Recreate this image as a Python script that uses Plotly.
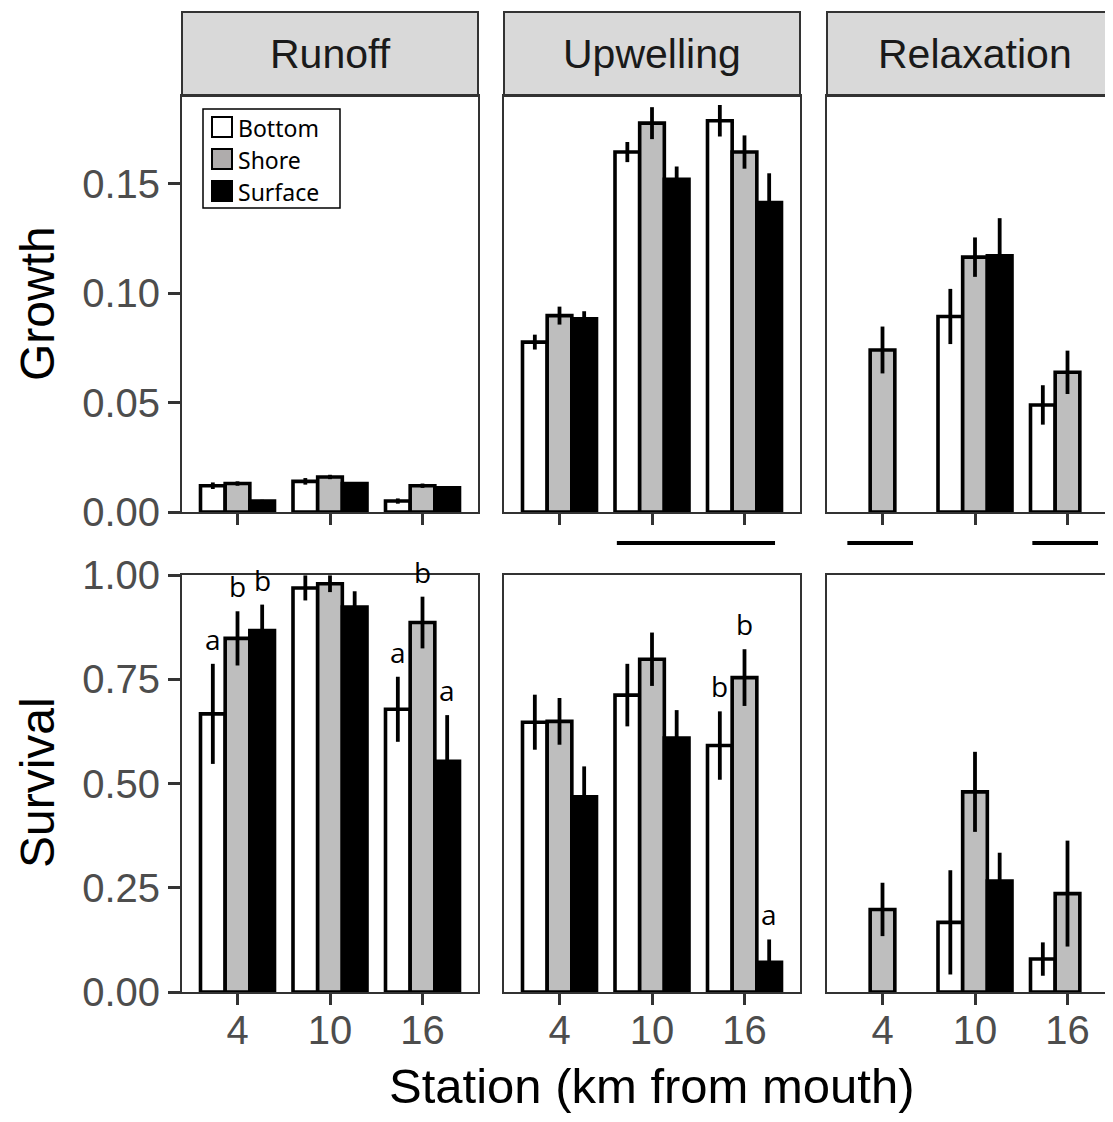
import plotly.graph_objects as go

# ---------------- data ----------------
stations = ["4", "10", "16"]
treatments = ["Bottom", "Shore", "Surface"]
conditions = ["Runoff", "Upwelling", "Relaxation"]

# growth means / standard errors, one list per treatment (stations 4, 10, 16)
growth_runoff_bottom = [0.012, 0.014, 0.005]
growth_runoff_shore = [0.013, 0.016, 0.012]
growth_runoff_surface = [0.005, 0.013, 0.011]
growth_runoff_bottom_se = [0.0015, 0.0015, 0.0012]
growth_runoff_shore_se = [0.0010, 0.0010, 0.0010]
growth_runoff_surface_se = [0.0006, 0.0006, 0.0008]

growth_upwelling_bottom = [0.0776, 0.1644, 0.1787]
growth_upwelling_shore = [0.0897, 0.1776, 0.1644]
growth_upwelling_surface = [0.0882, 0.1520, 0.1413]
growth_upwelling_bottom_se = [0.0034, 0.0046, 0.0072]
growth_upwelling_shore_se = [0.0041, 0.0073, 0.0076]
growth_upwelling_surface_se = [0.0035, 0.0058, 0.0134]

growth_relaxation_bottom = [None, 0.0893, 0.0489]
growth_relaxation_shore = [0.0740, 0.1164, 0.0638]
growth_relaxation_surface = [None, 0.1170, None]
growth_relaxation_bottom_se = [None, 0.0126, 0.0090]
growth_relaxation_shore_se = [0.0107, 0.0090, 0.0099]
growth_relaxation_surface_se = [None, 0.0172, None]

survival_runoff_bottom = [0.667, 0.969, 0.678]
survival_runoff_shore = [0.848, 0.979, 0.886]
survival_runoff_surface = [0.867, 0.923, 0.553]
survival_runoff_bottom_se = [0.120, 0.030, 0.078]
survival_runoff_shore_se = [0.065, 0.020, 0.062]
survival_runoff_surface_se = [0.062, 0.038, 0.111]

survival_upwelling_bottom = [0.647, 0.712, 0.591]
survival_upwelling_shore = [0.649, 0.798, 0.754]
survival_upwelling_surface = [0.468, 0.609, 0.071]
survival_upwelling_bottom_se = [0.066, 0.075, 0.082]
survival_upwelling_shore_se = [0.056, 0.064, 0.068]
survival_upwelling_surface_se = [0.073, 0.067, 0.055]

survival_relaxation_bottom = [None, 0.167, 0.079]
survival_relaxation_shore = [0.198, 0.480, 0.236]
survival_relaxation_surface = [None, 0.266, None]
survival_relaxation_bottom_se = [None, 0.125, 0.040]
survival_relaxation_shore_se = [0.064, 0.096, 0.127]
survival_relaxation_surface_se = [None, 0.068, None]

# significance letters: (condition, station, treatment, letter) for survival
letters = [
    ("Runoff", "4", "Bottom", "a"), ("Runoff", "4", "Shore", "b"), ("Runoff", "4", "Surface", "b"),
    ("Runoff", "16", "Bottom", "a"), ("Runoff", "16", "Shore", "b"), ("Runoff", "16", "Surface", "a"),
    ("Upwelling", "16", "Bottom", "b"), ("Upwelling", "16", "Shore", "b"), ("Upwelling", "16", "Surface", "a"),
]
# underlines below growth panels: (condition, first station, last station)
sig_lines = [("Upwelling", "10", "16"), ("Relaxation", "4", "4"), ("Relaxation", "16", "16")]

# ---------------- assemble ----------------
growth = {
    "Runoff": ([growth_runoff_bottom, growth_runoff_shore, growth_runoff_surface],
               [growth_runoff_bottom_se, growth_runoff_shore_se, growth_runoff_surface_se]),
    "Upwelling": ([growth_upwelling_bottom, growth_upwelling_shore, growth_upwelling_surface],
                  [growth_upwelling_bottom_se, growth_upwelling_shore_se, growth_upwelling_surface_se]),
    "Relaxation": ([growth_relaxation_bottom, growth_relaxation_shore, growth_relaxation_surface],
                   [growth_relaxation_bottom_se, growth_relaxation_shore_se, growth_relaxation_surface_se]),
}
survival = {
    "Runoff": ([survival_runoff_bottom, survival_runoff_shore, survival_runoff_surface],
               [survival_runoff_bottom_se, survival_runoff_shore_se, survival_runoff_surface_se]),
    "Upwelling": ([survival_upwelling_bottom, survival_upwelling_shore, survival_upwelling_surface],
                  [survival_upwelling_bottom_se, survival_upwelling_shore_se, survival_upwelling_surface_se]),
    "Relaxation": ([survival_relaxation_bottom, survival_relaxation_shore, survival_relaxation_surface],
                   [survival_relaxation_bottom_se, survival_relaxation_shore_se, survival_relaxation_surface_se]),
}

# The page body has an 8px default margin, so the figure is sized to fill
# the rest of the window and all layout pixel positions are shifted by it.
OFF = 8
W, H = 1113 - OFF, 1122 - 2 * OFF
fill_colors = ["#ffffff", "#bebebe", "#000000"]
legend_colors = ["#ffffff", "#afacac", "#000000"]
xpos = [1, 2, 3]
BAR_W = 0.8 / 3

# panel pixel geometry (window coordinates)
col_px = [(182, 478), (504, 800), (827, 1123)]
row_px = [(96, 512), (575, 992)]
strip_px = (12, 96)


def px_x(p):
    return (p - OFF) / W


def px_y(p):
    return 1 - (p - OFF) / H


fig = go.Figure()

AX = "#333333"
TICKC = "#4d4d4d"
tick_font = dict(family="Liberation Sans, Arial", size=40, color=TICKC)

for r, (rowdata, yr) in enumerate([(growth, [0, 0.19]), (survival, [0, 1.0])]):
    for c, cond in enumerate(conditions):
        idx = r * 3 + c + 1
        xa = "x" if idx == 1 else f"x{idx}"
        ya = "y" if idx == 1 else f"y{idx}"
        means, ses = rowdata[cond]
        for t, tr in enumerate(treatments):
            fig.add_trace(go.Bar(
                x=xpos, y=means[t], name=tr,
                xaxis=xa, yaxis=ya, showlegend=False,
                marker=dict(color=fill_colors[t], line=dict(color="black", width=3.6)),
                error_y=dict(type="data", array=ses[t], visible=True, thickness=3.8,
                             width=0, color="black"),
                offsetgroup=str(t),
            ))
        x0p, x1p = col_px[c]
        y0p, y1p = row_px[r]
        full_units = 3.2
        vis_right = min(x1p, OFF + W)
        rng_hi = 0.4 + full_units * (vis_right - x0p) / (x1p - x0p)
        xkey = "xaxis" if idx == 1 else f"xaxis{idx}"
        ykey = "yaxis" if idx == 1 else f"yaxis{idx}"
        fig.layout[xkey] = dict(
            domain=[px_x(x0p), px_x(vis_right)], anchor=ya,
            range=[0.4, rng_hi], tickvals=xpos, ticktext=stations,
            showticklabels=(r == 1), ticks="outside", ticklen=11, tickwidth=3,
            ticklabelstandoff=-9,
            tickcolor=AX, tickfont=tick_font, automargin=False,
            showline=True, linecolor=AX, linewidth=2, mirror=True,
            showgrid=False, zeroline=False, fixedrange=True,
        )
        fig.layout[ykey] = dict(
            domain=[px_y(y1p), px_y(y0p)], anchor=xa,
            range=yr,
            tickvals=([0, 0.05, 0.10, 0.15] if r == 0 else [0, 0.25, 0.5, 0.75, 1.0]),
            ticktext=(["0.00", "0.05", "0.10", "0.15"] if r == 0 else ["0.00", "0.25", "0.50", "0.75", "1.00"]),
            showticklabels=(c == 0), ticks=("outside" if c == 0 else ""),
            ticklen=12, tickwidth=3, tickcolor=AX, tickfont=tick_font, automargin=False,
            showline=True, linecolor=AX, linewidth=2, mirror=(c != 2),
            showgrid=False, zeroline=False, fixedrange=True,
        )

shapes = []
annotations = []

# facet strips
for c, cond in enumerate(conditions):
    x0p, x1p = col_px[c]
    shapes.append(dict(type="rect", xref="paper", yref="paper",
                       x0=px_x(x0p), x1=px_x(x1p), y0=px_y(strip_px[1]), y1=px_y(strip_px[0]),
                       fillcolor="#d9d9d9", line=dict(color=AX, width=2), layer="below"))
    annotations.append(dict(text=cond, xref="paper", yref="paper",
                            x=px_x((x0p + x1p) / 2), y=px_y(sum(strip_px) / 2),
                            xanchor="center", yanchor="middle", showarrow=False,
                            font=dict(family="Liberation Sans, Arial", size=41, color="#1a1a1a")))

# significance underlines below growth panels
for cond, s0, s1 in sig_lines:
    c = conditions.index(cond)
    xa = "x" if c == 0 else f"x{c + 1}"
    shapes.append(dict(type="line", xref=xa, yref="paper",
                       x0=xpos[stations.index(s0)] - 0.38, x1=xpos[stations.index(s1)] + 0.33,
                       y0=px_y(543), y1=px_y(543), line=dict(color="black", width=4)))

# letters above survival bars
for cond, st, tr, let in letters:
    c = conditions.index(cond)
    idx = 3 + c + 1
    t = treatments.index(tr)
    s = stations.index(st)
    means, ses = survival[cond]
    top = means[t][s] + ses[t][s]
    annotations.append(dict(text=let, xref=f"x{idx}", yref=f"y{idx}",
                            x=xpos[s] + (t - 1) * BAR_W, y=top,
                            xanchor="center", yanchor="bottom", yshift=4, showarrow=False,
                            font=dict(family="Open Sans, Noto Sans", size=28, color="black")))

# legend box (drawn inside the Runoff growth panel)
shapes.append(dict(type="rect", xref="paper", yref="paper",
                   x0=px_x(203), x1=px_x(340), y0=px_y(208), y1=px_y(109),
                   fillcolor="white", line=dict(color="black", width=1.5)))
for t, tr in enumerate(treatments):
    yc = 127 + 32 * t
    shapes.append(dict(type="rect", xref="paper", yref="paper",
                       x0=px_x(212), x1=px_x(232), y0=px_y(yc + 10), y1=px_y(yc - 10),
                       fillcolor=legend_colors[t], line=dict(color="black", width=2)))
    annotations.append(dict(text=tr, xref="paper", yref="paper",
                            x=px_x(236), y=px_y(yc + 1), xanchor="left", yanchor="middle",
                            showarrow=False,
                            font=dict(family="Noto Sans, Open Sans", size=23, color="black")))

# axis titles
ytitle_font = dict(family="Liberation Sans, Arial", size=48, color="black")
xtitle_font = dict(family="Liberation Sans, Arial", size=49, color="black")
annotations.append(dict(text="Growth", xref="paper", yref="paper", x=px_x(37), y=px_y(304),
                        textangle=-90, xanchor="center", yanchor="middle", showarrow=False,
                        font=ytitle_font))
annotations.append(dict(text="Survival", xref="paper", yref="paper", x=px_x(37), y=px_y(783),
                        textangle=-90, xanchor="center", yanchor="middle", showarrow=False,
                        font=ytitle_font))
annotations.append(dict(text="Station (km from mouth)", xref="paper", yref="paper",
                        x=px_x(652), y=px_y(1086), xanchor="center", yanchor="middle",
                        showarrow=False, font=xtitle_font))

fig.update_layout(
    width=W, height=H, margin=dict(l=0, r=0, t=0, b=0, autoexpand=False),
    paper_bgcolor="white", plot_bgcolor="white",
    barmode="group", bargap=0.2, bargroupgap=0,
    shapes=shapes, annotations=annotations, showlegend=False,
)

fig.write_html("out.html")
